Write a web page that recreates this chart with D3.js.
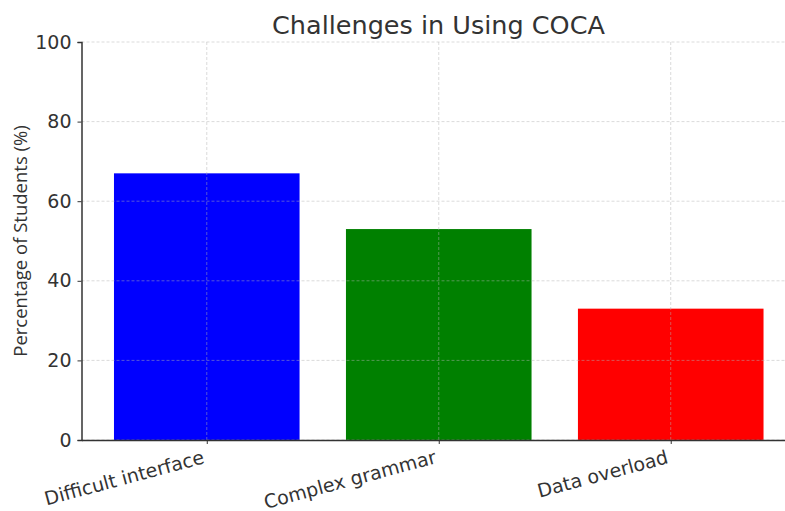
<!DOCTYPE html>
<html>
<head>
<meta charset="utf-8">
<style>
  body { margin: 0; background: #fff; }
  svg text { font-family: "DejaVu Sans", sans-serif; fill: #333; }
</style>
</head>
<body>
<div id="chart"></div>
<script src="https://d3js.org/d3.v7.min.js"></script>
<script>
  // Chart data
  const categories = ['Difficult interface', 'Complex grammar', 'Data overload'];
  const percentages = [67, 53, 33];
  const barColors = ['#0000ff', '#008000', '#ff0000'];
  const yTicks = [0, 20, 40, 60, 80, 100];

  const width = 785;
  const height = 511;

  const svg = d3.select('#chart')
    .append('svg')
    .attr('width', width)
    .attr('height', height);

  // x as a continuous index scale, like a bar plot with width 0.8
  const x = d3.scaleLinear()
    .domain([-0.54, 2.54])
    .range([81.5, 796]);

  const y = d3.scaleLinear()
    .domain([0, 100])
    .range([440, 42]);

  const barWidth = 0.8;

  // Bars
  svg.selectAll('rect.bar')
    .data(percentages)
    .enter()
    .append('rect')
    .attr('class', 'bar')
    .attr('x', (d, i) => x(i - barWidth / 2))
    .attr('y', (d) => y(d))
    .attr('width', x(barWidth) - x(0))
    .attr('height', (d) => y(0) - y(d))
    .attr('fill', (d, i) => barColors[i]);

  // Grid lines (drawn over the bars)
  const grid = svg.append('g')
    .attr('stroke', '#b0b0b0')
    .attr('stroke-opacity', 0.6)
    .attr('stroke-width', 0.8)
    .attr('stroke-dasharray', '3,2');

  grid.selectAll('line.h')
    .data(yTicks)
    .enter()
    .append('line')
    .attr('x1', x.range()[0])
    .attr('x2', x.range()[1])
    .attr('y1', (d) => y(d))
    .attr('y2', (d) => y(d));

  grid.selectAll('line.v')
    .data(categories)
    .enter()
    .append('line')
    .attr('x1', (d, i) => x(i))
    .attr('x2', (d, i) => x(i))
    .attr('y1', y(0))
    .attr('y2', y(100));

  // Y axis
  const yAxis = svg.append('g')
    .attr('transform', `translate(${x.range()[0]},0)`)
    .call(d3.axisLeft(y).tickValues(yTicks).tickSize(4).tickPadding(6));
  yAxis.select('.domain').attr('stroke', '#333').attr('stroke-width', 1.5);
  yAxis.selectAll('.tick line').attr('stroke', '#333');
  yAxis.selectAll('.tick text')
    .attr('font-size', 19)
    .attr('fill', '#333')
    .style('font-family', '"DejaVu Sans", sans-serif');

  // X axis
  const xAxis = svg.append('g')
    .attr('transform', `translate(0,${y(0)})`)
    .call(d3.axisBottom(x).tickValues([0, 1, 2]).tickSize(4).tickSizeOuter(0)
      .tickFormat((d) => categories[d]));
  xAxis.select('.domain').attr('stroke', '#333').attr('stroke-width', 1.5);
  xAxis.selectAll('.tick line').attr('stroke', '#333');
  xAxis.selectAll('.tick text')
    .attr('font-size', 19)
    .attr('fill', '#333')
    .style('font-family', '"DejaVu Sans", sans-serif')
    .attr('text-anchor', 'end')
    .attr('y', 0)
    .attr('dy', 0)
    .attr('transform', 'translate(-2,23) rotate(-15)');

  // Title
  svg.append('text')
    .attr('x', 438.5)
    .attr('y', 34)
    .attr('text-anchor', 'middle')
    .attr('font-size', 25.5)
    .text('Challenges in Using COCA');

  // Y label
  svg.append('text')
    .attr('transform', 'translate(27,241) rotate(-90)')
    .attr('text-anchor', 'middle')
    .attr('font-size', 18.5)
    .style('font-family', '"Open Sans", sans-serif')
    .text('Percentage of Students (%)');
</script>
</body>
</html>
